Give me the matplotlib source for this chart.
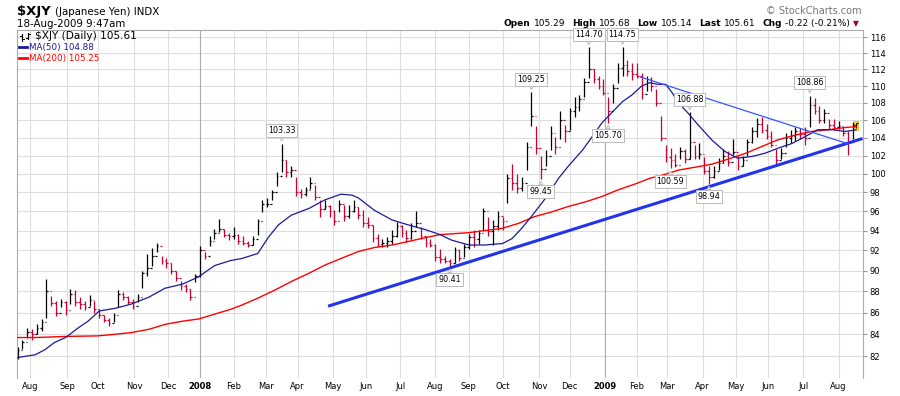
import numpy as np
import pandas as pd
import matplotlib
matplotlib.use("Agg")
import matplotlib.pyplot as plt
from matplotlib.patches import Rectangle
from matplotlib.lines import Line2D
from matplotlib.ticker import FixedLocator, NullLocator, FuncFormatter

W, H = 900, 396

# header / legend texts
symbol = "$XJY"
name = "(Japanese Yen) INDX"
stamp = "18-Aug-2009 9:47am"
credit = "\u00a9 StockCharts.com"
quote = [("Open", "105.29"), ("High", "105.68"), ("Low", "105.14"),
         ("Last", "105.61"), ("Chg", "-0.22 (-0.21%)")]
legend_price = "$XJY (Daily) 105.61"
legend_ma50 = "MA(50) 104.88"
legend_ma200 = "MA(200) 105.25"

# trading calendar
first_day = "2007-07-20"
last_day = "2009-08-18"
holidays = ["2007-09-03", "2007-11-22", "2007-12-25",
            "2008-01-01", "2008-01-21", "2008-02-18", "2008-03-21", "2008-05-26",
            "2008-07-04", "2008-09-01", "2008-11-27", "2008-12-25",
            "2009-01-01", "2009-01-19", "2009-02-16", "2009-04-10", "2009-05-25",
            "2009-07-03"]

# price bars, one every 3 trading days, last one is the current bar
hi = [82.8, 83.5, 84.6, 84.5, 84.9, 85.4, 89.2, 87.6, 87.1, 87.3,
      87.1, 88.2, 88.1, 87.5, 87.1, 87.7, 87.1, 86.3, 85.8, 85.5,
      86.0, 88.1, 87.9, 87.6, 87.3, 87.8, 90.0, 91.7, 92.2, 92.8,
      91.5, 91.3, 90.8, 90.0, 89.0, 88.7, 88.2, 89.7, 92.5, 91.8,
      93.5, 94.2, 95.2, 94.2, 93.8, 94.4, 93.7, 93.5, 93.0, 93.5,
      95.2, 97.2, 97.4, 98.2, 100.2, 103.33, 101.5, 100.8, 99.7, 98.4,
      98.6, 99.6, 98.8, 97.2, 97.2, 96.7, 96.1, 97.2, 96.7, 96.7,
      97.2, 96.5, 96.1, 95.4, 94.6, 93.7, 93.2, 93.4, 94.1, 94.9,
      94.6, 94.1, 94.8, 96.0, 94.4, 93.4, 93.2, 92.7, 92.1, 91.5,
      91.2, 92.4, 92.1, 92.7, 93.7, 94.1, 94.1, 96.3, 95.4, 95.1,
      96.0, 95.4, 100.0, 101.1, 100.0, 99.7, 103.5, 109.25, 105.3, 101.9,
      102.6, 105.3, 104.1, 107.0, 105.4, 107.4, 108.7, 108.9, 111.0, 114.70,
      112.0, 111.2, 110.8, 108.7, 110.2, 112.8, 114.75, 113.2, 112.8, 112.8,
      111.6, 111.2, 111.1, 109.6, 106.5, 103.2, 102.8, 102.2, 103.0, 102.7,
      106.88, 103.2, 103.4, 101.8, 100.8, 100.8, 101.7, 102.7, 102.5, 103.9,
      102.0, 101.9, 103.9, 105.2, 106.2, 106.4, 105.5, 104.8, 102.7, 102.8,
      104.5, 104.9, 105.2, 105.1, 105.2, 108.86, 108.6, 107.6, 107.3, 106.1,
      106.1, 105.9, 105.2, 104.7, 105.8, 105.68]
lo = [81.8, 82.7, 83.7, 83.5, 84.0, 84.3, 85.5, 86.6, 85.7, 86.5,
      85.8, 86.8, 86.6, 86.3, 86.2, 86.6, 86.0, 85.5, 85.1, 84.8,
      85.1, 86.5, 87.2, 86.8, 86.3, 87.0, 88.3, 89.5, 90.5, 91.8,
      90.7, 90.3, 89.7, 89.0, 88.1, 87.9, 87.2, 88.9, 89.4, 91.2,
      92.5, 93.2, 93.9, 93.4, 93.1, 93.2, 92.7, 92.6, 92.3, 92.6,
      93.6, 95.9, 96.4, 97.2, 98.7, 100.2, 99.7, 99.7, 97.6, 97.4,
      97.6, 98.4, 97.2, 95.4, 96.2, 95.4, 94.6, 95.9, 95.0, 95.3,
      95.9, 95.2, 94.4, 94.3, 92.9, 92.4, 92.4, 92.4, 92.7, 93.4,
      93.4, 92.9, 93.2, 94.4, 93.2, 92.4, 92.4, 91.0, 90.8, 90.8,
      90.41, 90.8, 91.0, 91.4, 92.1, 92.4, 92.7, 94.1, 93.5, 92.6,
      94.1, 94.1, 96.9, 98.3, 97.9, 98.1, 100.4, 105.3, 102.2, 99.45,
      100.8, 102.6, 102.2, 103.9, 103.5, 104.9, 106.4, 107.0, 108.7, 111.0,
      110.4, 109.6, 108.9, 105.70, 108.0, 110.4, 111.2, 111.2, 110.7, 111.0,
      108.4, 109.4, 109.4, 107.6, 103.6, 101.3, 100.59, 100.7, 101.6, 101.2,
      101.6, 101.6, 101.6, 100.0, 98.94, 99.5, 100.4, 101.2, 100.8, 102.1,
      100.4, 100.8, 101.9, 103.4, 104.1, 104.5, 103.8, 102.9, 101.1, 101.6,
      103.0, 103.4, 103.6, 103.8, 103.2, 105.2, 106.7, 105.7, 105.7, 105.0,
      104.9, 105.0, 104.2, 102.1, 103.8, 105.14]
cl = [82.6, 83.3, 84.2, 84.0, 84.6, 85.1, 88.0, 86.9, 86.0, 87.0,
      86.2, 87.8, 87.0, 86.8, 86.5, 87.2, 86.3, 85.8, 85.3, 85.0,
      85.8, 87.8, 87.5, 87.0, 86.6, 87.5, 89.8, 90.3, 91.5, 92.5,
      91.0, 90.8, 90.0, 89.3, 88.5, 88.2, 87.5, 89.5, 92.0, 91.5,
      93.0, 93.8, 94.2, 93.6, 93.5, 93.6, 93.0, 92.8, 92.6, 93.2,
      95.0, 96.8, 96.8, 98.0, 99.8, 101.5, 100.2, 100.4, 98.0, 97.8,
      98.2, 99.0, 97.5, 96.2, 96.6, 96.0, 95.0, 96.8, 95.5, 96.0,
      96.5, 95.6, 94.8, 94.6, 93.3, 92.7, 92.8, 93.0, 93.5, 94.5,
      93.8, 93.3, 94.0, 94.8, 93.5, 92.8, 92.6, 91.4, 91.2, 91.0,
      90.8, 92.0, 91.3, 92.4, 93.4, 93.2, 93.8, 96.0, 94.0, 94.5,
      95.5, 95.0, 99.5, 99.0, 98.5, 99.0, 103.0, 106.5, 102.8, 100.5,
      102.0, 104.5, 103.0, 106.0, 104.8, 107.0, 107.5, 108.4, 110.5, 112.0,
      110.8, 110.0, 109.2, 107.0, 109.8, 112.2, 112.5, 111.8, 111.5, 111.2,
      109.0, 110.8, 110.0, 108.0, 104.0, 101.8, 101.5, 101.0, 102.5, 101.6,
      103.5, 102.0, 102.2, 100.3, 99.6, 100.3, 101.2, 102.0, 101.3, 102.4,
      100.8, 101.5, 103.5, 104.8, 105.5, 104.9, 104.2, 103.2, 101.5, 102.3,
      104.0, 104.2, 104.8, 104.4, 104.0, 107.8, 107.0, 106.0, 106.8, 105.4,
      105.2, 105.3, 104.5, 103.5, 105.4, 105.61]
open_last = 105.29

# moving averages (trading day, value)
ma50_day = [0, 11, 17, 23, 30, 38, 44, 51, 61, 71, 82, 92, 103, 113, 123, 133,
            140, 150, 157, 163, 171, 182, 192, 202, 209, 213, 223, 234, 244, 255,
            264, 271, 282, 292, 303, 309, 315, 321, 330, 338, 344, 353, 359, 365,
            371, 378, 384, 390, 395, 400, 405, 409, 413, 419, 425, 434, 442, 450,
            459, 467, 475, 484, 492, 500, 509, 517, 524]
ma50 = [81.9, 82.15, 82.6, 83.25, 83.7, 84.6, 85.2, 86.15, 86.4, 86.8, 87.45, 88.3,
        88.7, 89.4, 90.5, 91.0, 91.2, 91.7, 93.4, 94.6, 95.6, 96.3, 97.2, 97.8,
        97.7, 97.4, 96.1, 95.1, 94.6, 94.1, 93.6, 93.05, 92.55, 92.55, 92.7, 93.2,
        94.25, 95.45, 97.4, 99.5, 100.8, 102.6, 104.1, 105.65, 106.8, 108.15,
        108.95, 110.0, 110.4, 110.2, 110.2, 109.2, 108.0, 106.8, 105.5, 103.7,
        102.45, 101.7, 101.9, 102.25, 102.8, 103.35, 104.1, 104.9, 104.9, 104.7,
        104.88]
ma200_day = [0, 11, 30, 50, 61, 71, 82, 92, 103, 113, 123, 133, 140, 150, 161,
             171, 182, 192, 202, 213, 223, 234, 244, 255, 264, 282, 303, 313, 323,
             334, 344, 355, 365, 375, 386, 395, 403, 413, 423, 434, 444, 455, 465,
             475, 486, 496, 507, 517, 524]
ma200 = [83.7, 83.7, 83.8, 83.85, 84.0, 84.15, 84.45, 84.9, 85.2, 85.4, 85.85, 86.3,
         86.7, 87.35, 88.15, 88.95, 89.75, 90.55, 91.2, 91.9, 92.3, 92.55, 92.9,
         93.3, 93.6, 93.8, 94.25, 94.75, 95.45, 95.95, 96.5, 97.0, 97.55, 98.25,
         98.9, 99.5, 99.85, 100.4, 100.7, 101.05, 101.6, 102.25, 103.0, 103.75,
         104.3, 104.7, 104.9, 105.15, 105.25]

# hand drawn trend lines
trend_day = [194, 528]
trend_px = [86.6, 103.9]
wedge_day = [389, 519]
wedge_px = [111.1, 103.3]

# labelled highs and lows
peaks = [103.33, 109.25, 114.70, 114.75, 106.88, 108.86]
troughs = [90.41, 99.45, 105.70, 100.59, 98.94]

price_ticks = list(range(82, 117, 2))

# ---------------------------------------------------------------
plt.rcParams["font.family"] = "DejaVu Sans"

hol = np.array(holidays, dtype="datetime64[D]")
n_days = int(np.busday_count(first_day, np.datetime64(last_day) + 1, holidays=hol))
months = pd.date_range("2007-08-01", last_day, freq="MS")
month_pos = np.busday_count(first_day, months.values.astype("datetime64[D]"), holidays=hol)
month_lab = [str(m.year) if m.month == 1 else m.strftime("%b") for m in months]

hi = np.array(hi)
lo = np.array(lo)
cl = np.array(cl)
days = np.arange(len(cl)) * 3
days[-1] = n_days - 1
op = np.r_[cl[0], cl[:-1]]
op[-1] = open_last
cols = ["#cc0033" if c < p else "black" for c, p in zip(cl, np.r_[cl[0], cl[:-1]])]

fig = plt.figure(figsize=(W / 100, H / 100), dpi=100)
fig.patch.set_facecolor("white")
ax = fig.add_axes([16.7 / W, 18 / H, 846 / W, 348 / H])

ax.set_yscale("log")
ax.set_ylim(80.1, 116.9)
ax.set_xlim(-0.6, 528.1)

# grid
for p in price_ticks:
    ax.axhline(p, color="#dddddd", lw=0.8, zorder=0)
for pos, lab in zip(month_pos, month_lab):
    ax.axvline(pos, color="#aaaaaa" if lab.isdigit() else "#dddddd", lw=0.8, zorder=0)

# moving averages
ax.plot(ma200_day, ma200, color="#ff0000", lw=1.0, zorder=3)
ax.plot(ma50_day, ma50, color="#1a1a99", lw=0.9, zorder=3)

# last bar highlight
ax.add_patch(Rectangle((days[-1] - 1.3, lo[-1] - 0.25), 2.6, hi[-1] - lo[-1] + 0.45,
                       facecolor="#ffee33", edgecolor="#d4b000", lw=0.5, zorder=1.5))

# ohlc bars
ax.vlines(days, lo, hi, colors=cols, lw=0.9, zorder=2)
ax.hlines(op, days - 1.0, days, colors=cols, lw=0.9, zorder=2)
ax.hlines(cl, days, days + 1.0, colors=cols, lw=0.9, zorder=2)

# trend lines
ax.plot(trend_day, trend_px, color="#2233ee", lw=2.2, zorder=4, solid_capstyle="butt")
ax.plot(wedge_day, wedge_px, color="#3355ff", lw=0.9, zorder=4)

# high / low labels
box = dict(boxstyle="square,pad=0.25", fc="white", ec="#bbbbbb", lw=0.7)
arrow = dict(arrowstyle="wedge,tail_width=0.45,shrink_factor=0.5", fc="white",
             ec="#bbbbbb", lw=0.7, shrinkA=0, shrinkB=2)
for v in peaks:
    d = days[np.argmin(np.abs(hi - v))]
    ax.annotate(f"{v:.2f}", xy=(d, v), xytext=(0, 6), textcoords="offset points",
                ha="center", va="bottom", fontsize=5.8, bbox=box, arrowprops=arrow,
                zorder=6)
for v in troughs:
    d = days[np.argmin(np.abs(lo - v))]
    ax.annotate(f"{v:.2f}", xy=(d, v), xytext=(0, -6), textcoords="offset points",
                ha="center", va="top", fontsize=5.8, bbox=box, arrowprops=arrow,
                zorder=6)

# axes styling
ax.yaxis.tick_right()
ax.yaxis.set_major_locator(FixedLocator(price_ticks))
ax.yaxis.set_minor_locator(NullLocator())
ax.yaxis.set_major_formatter(FuncFormatter(lambda v, _: f"{v:.0f}"))
ax.tick_params(axis="y", direction="out", length=3, color="#999999", labelsize=6, pad=2)
ax.set_xticks(month_pos)
ax.set_xticklabels(month_lab)
ax.tick_params(axis="x", length=0, labelsize=6, pad=3)
for t in ax.get_xticklabels():
    if t.get_text().isdigit():
        t.set_fontweight("bold")
ax.xaxis.set_minor_locator(NullLocator())
for s in ["left", "top", "right"]:
    ax.spines[s].set_color("#aaaaaa")
    ax.spines[s].set_linewidth(0.8)
ax.spines["bottom"].set_visible(False)

# text in figure pixels
r = fig.canvas.get_renderer()


def run(x, y, parts, align="left"):
    seq = parts[::-1] if align == "right" else parts
    for s, wt, c, sz, gap in seq:
        if align == "right":
            x -= gap
        t = fig.text(x / W, 1 - y / H, s, fontsize=sz, fontweight=wt, color=c,
                     ha=align, va="baseline")
        w = t.get_window_extent(renderer=r).width
        if align == "left":
            x += w + gap
        else:
            x -= w
    return x


run(17, 15, [(symbol, "bold", "black", 9.5, 4), (name, "normal", "black", 7.4, 0)])
run(17, 27, [(stamp, "normal", "black", 7.4, 0)])
run(862, 14, [(credit, "normal", "#777777", 7, 0)], align="right")

qparts = []
for lab, val in quote:
    qparts.append((lab, "bold", "black", 6.5, 3.5))
    qparts.append((val, "normal", "black", 6.5, 6.5))
qparts[-1] = (quote[-1][1], "normal", "black", 6.5, 3)
qparts.append(("\u25bc", "normal", "#990033", 5.5, 0))
run(859, 26, qparts, align="right")

# legend inside plot
run(35, 39, [(legend_price, "normal", "black", 7.6, 0)])
run(29, 50, [(legend_ma50, "normal", "#1a1a99", 6.3, 0)])
run(29, 61, [(legend_ma200, "normal", "#ff0000", 6.3, 0)])
fig.add_artist(Line2D([19 / W, 27 / W], [1 - 46.5 / H] * 2, color="#1a1a99", lw=2.0))
fig.add_artist(Line2D([19 / W, 27 / W], [1 - 57.5 / H] * 2, color="#ff0000", lw=2.0))
# small bar icon
for bx, b0, b1, o, c in [(22, 34, 41, 36, 39), (28, 33, 39, 38, 34)]:
    fig.add_artist(Line2D([bx / W] * 2, [1 - b0 / H, 1 - b1 / H], color="black", lw=0.8))
    fig.add_artist(Line2D([(bx - 2) / W, bx / W], [1 - o / H] * 2, color="black", lw=0.8))
    fig.add_artist(Line2D([bx / W, (bx + 2) / W], [1 - c / H] * 2, color="black", lw=0.8))

fig.savefig("out.png", dpi=100)
